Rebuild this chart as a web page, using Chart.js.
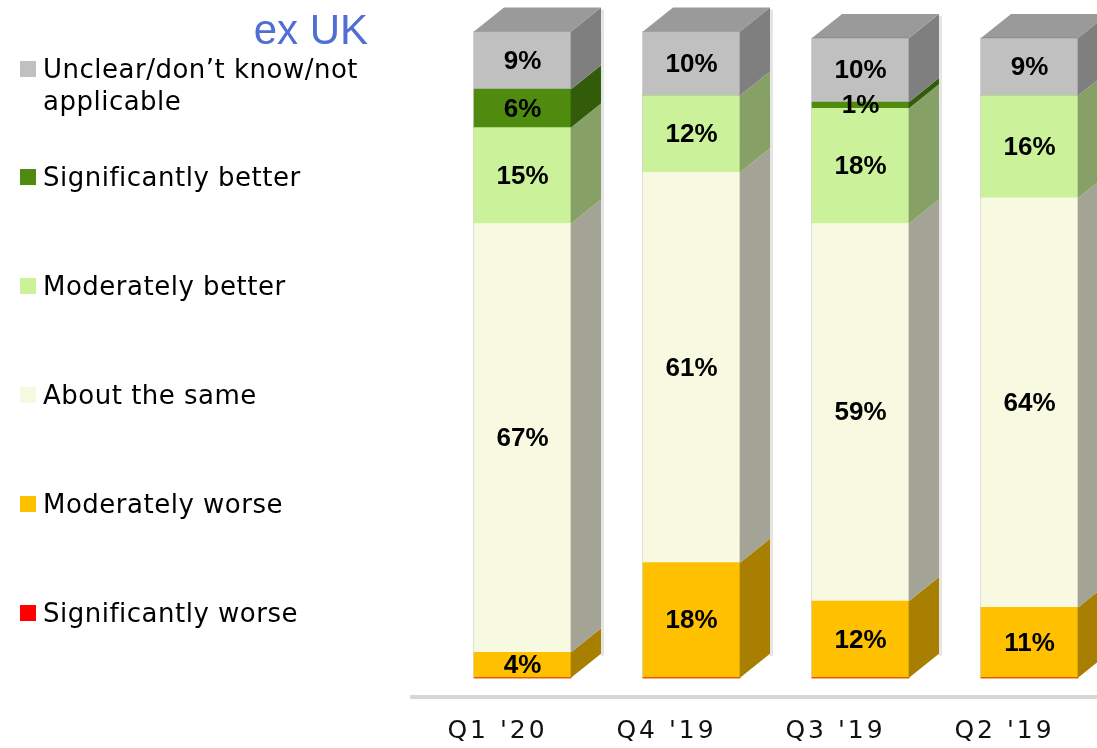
<!DOCTYPE html>
<html>
<head>
<meta charset="utf-8">
<title>Evolução trimestral</title>
<script src="https://cdn.jsdelivr.net/npm/chart.js@4.4.1/dist/chart.umd.min.js"></script>
<style>
  html, body { margin: 0; padding: 0; background: #fff; overflow: hidden; }
  #wrap { position: relative; width: 1097px; height: 748px; }
  #grafico { position: absolute; left: 0; top: 0; }
  #titulo {
    position: absolute; right: 729px; top: 9px;
    font-family: "Liberation Sans", Arial, sans-serif; font-size: 42px; line-height: 42px;
    color: #4F6FD3; white-space: nowrap;
  }
  .item {
    position: absolute; left: 20px;
    font-family: "DejaVu Sans", sans-serif; font-size: 26px; line-height: 32px; color: #000;
    letter-spacing: 0.5px;
  }
  .item .quadrado { position: absolute; left: 0; top: 8px; width: 16px; height: 16px; }
  .item .texto { margin-left: 23px; white-space: nowrap; }
</style>
</head>
<body>
<div id="wrap">
  <canvas id="grafico" width="1097" height="748"></canvas>
  <div id="titulo">ex UK</div>
  <div id="legenda"></div>
</div>
<script>
// Dados por trimestre (percentuais)
const categorias = ["Q1 '20", "Q4 '19", "Q3 '19", "Q2 '19"];
const significativamentePior = [0, 0, 0, 0];
const moderadamentePior = [4, 18, 12, 11];
const praticamenteIgual = [67, 61, 59, 64];
const moderadamenteMelhor = [15, 12, 18, 16];
const significativamenteMelhor = [6, 0, 1, 0];
const incerto = [9, 10, 10, 9];

// Nomes das séries (de baixo para cima na pilha)
const nomesSeries = [
  'Significantly worse',
  'Moderately worse',
  'About the same',
  'Moderately better',
  'Significantly better',
  ['Unclear/don\u2019t know/not', 'applicable']
];
const valoresSeries = [
  significativamentePior, moderadamentePior, praticamenteIgual,
  moderadamenteMelhor, significativamenteMelhor, incerto
];
const coresSeries = ['#FF0000', '#FFC000', '#F7F9E1', '#CBF29B', '#4E8B0F', '#C0C0C0'];

// Profundidade do efeito 3D
const PROF_X = 30;
const PROF_Y = 24;

// Escurece uma cor hex por um fator
function sombra(hex, f) {
  const n = parseInt(hex.slice(1), 16);
  const r = Math.round(((n >> 16) & 255) * f);
  const g = Math.round(((n >> 8) & 255) * f);
  const b = Math.round((n & 255) * f);
  return `rgb(${r}, ${g}, ${b})`;
}

// Plugin que desenha as faces laterais/topo e os rótulos de valor
const barras3d = {
  id: 'barras3d',
  beforeDraw(chart) {
    chart.ctx.letterSpacing = '3px'; // espaçamento dos rótulos do eixo x
  },
  beforeDatasetsDraw(chart) {
    chart.ctx.letterSpacing = '0px';
  },
  afterDatasetsDraw(chart) {
    const ctx = chart.ctx;
    ctx.save();
    categorias.forEach((_, i) => {
      let topo = null;
      let fundo = null;
      chart.data.datasets.forEach((ds, d) => {
        if (!(ds.data[i].y > 0)) return;
        const el = chart.getDatasetMeta(d).data[i];
        const dir = el.x + el.width / 2;
        const cima = Math.min(el.y, el.base);
        const baixo = Math.max(el.y, el.base);
        // face lateral
        ctx.fillStyle = sombra(coresSeries[d], 0.66);
        ctx.beginPath();
        ctx.moveTo(dir, baixo);
        ctx.lineTo(dir + PROF_X, baixo - PROF_Y);
        ctx.lineTo(dir + PROF_X, cima - PROF_Y);
        ctx.lineTo(dir, cima);
        ctx.closePath();
        ctx.fill();
        if (fundo === null || baixo > fundo.baixo) fundo = { baixo };
        if (topo === null || cima < topo.cima) topo = { cima, el, d };
      });
      if (!topo) return;
      // face superior
      const el = topo.el;
      const esq = el.x - el.width / 2;
      const dir = el.x + el.width / 2;
      ctx.fillStyle = sombra(coresSeries[topo.d], 0.8);
      ctx.beginPath();
      ctx.moveTo(esq, topo.cima);
      ctx.lineTo(esq + PROF_X, topo.cima - PROF_Y);
      ctx.lineTo(dir + PROF_X, topo.cima - PROF_Y);
      ctx.lineTo(dir, topo.cima);
      ctx.closePath();
      ctx.fill();
      // leve sombra à direita
      ctx.fillStyle = 'rgba(0,0,0,0.10)';
      ctx.fillRect(dir + PROF_X, topo.cima - PROF_Y + 2, 3, fundo.baixo - topo.cima);
      // contorno suave da face frontal
      ctx.strokeStyle = 'rgba(0,0,0,0.12)';
      ctx.lineWidth = 1;
      ctx.strokeRect(esq - 0.5, topo.cima, el.width, fundo.baixo - topo.cima);
    });

    // rótulos de valor
    ctx.font = 'bold 26px "Liberation Sans", Arial, sans-serif';
    ctx.fillStyle = '#000';
    ctx.textAlign = 'center';
    ctx.textBaseline = 'middle';
    chart.data.datasets.forEach((ds, d) => {
      chart.getDatasetMeta(d).data.forEach((el, i) => {
        const v = ds.data[i].y;
        if (!(v > 0)) return;
        ctx.fillText(v + '%', el.x, (el.y + el.base) / 2 + 1);
      });
    });
    ctx.restore();
  }
};

const datasets = valoresSeries.map((valores, d) => ({
  label: Array.isArray(nomesSeries[d]) ? nomesSeries[d].join(' ') : nomesSeries[d],
  data: valores.map((v, i) => ({ x: i, y: v })),
  backgroundColor: coresSeries[d],
  borderWidth: 0,
  barThickness: 97
}));

new Chart(document.getElementById('grafico'), {
  type: 'bar',
  data: { datasets },
  options: {
    responsive: false,
    animation: false,
    layout: { padding: { left: 412, right: 0, top: 6, bottom: 0 } },
    plugins: { legend: { display: false }, tooltip: { enabled: false } },
    scales: {
      x: {
        type: 'linear',
        stacked: true,
        offset: false,
        min: -0.654,
        max: 3.3994,
        grid: { display: false, drawTicks: false },
        border: { display: true, color: '#D6D6D6', width: 4 },
        afterBuildTicks(scale) {
          scale.ticks = categorias.map((_, i) => ({ value: i }));
        },
        afterFit(scale) {
          scale.height = 51;
        },
        ticks: {
          autoSkip: false,
          maxRotation: 0,
          padding: 19,
          labelOffset: -25,
          color: '#111',
          font: { family: '"DejaVu Sans", sans-serif', size: 25 },
          callback: (v) => categorias[v]
        }
      },
      y: {
        stacked: true,
        display: false,
        min: -3,
        max: 105
      }
    }
  },
  plugins: [barras3d]
});

// Legenda em HTML (ordem de cima para baixo)
const legenda = document.getElementById('legenda');
for (let k = 0; k < nomesSeries.length; k++) {
  const d = nomesSeries.length - 1 - k;
  const centro = k === 0 ? 69 : 177 + (k - 1) * 109;
  const item = document.createElement('div');
  item.className = 'item';
  item.style.top = (centro - 16) + 'px';
  const q = document.createElement('div');
  q.className = 'quadrado';
  q.style.background = coresSeries[d];
  const t = document.createElement('div');
  t.className = 'texto';
  const linhas = Array.isArray(nomesSeries[d]) ? nomesSeries[d] : [nomesSeries[d]];
  linhas.forEach((l, j) => {
    if (j > 0) t.appendChild(document.createElement('br'));
    t.appendChild(document.createTextNode(l));
  });
  item.appendChild(q);
  item.appendChild(t);
  legenda.appendChild(item);
}
</script>
</body>
</html>
